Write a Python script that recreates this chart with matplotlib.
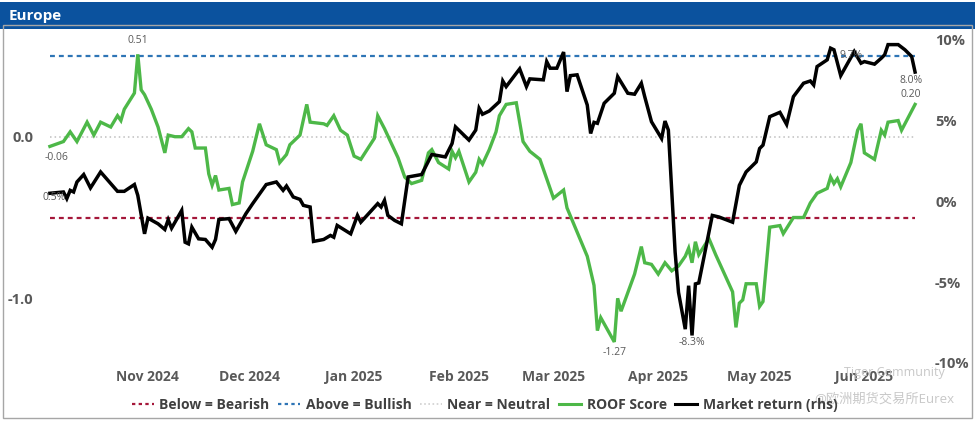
import matplotlib
matplotlib.use('Agg')
import matplotlib.pyplot as plt
import matplotlib.ticker as mticker
from matplotlib.lines import Line2D
from matplotlib.patches import Rectangle
import pandas as pd

# ROOF score (left axis)
roof_dates = ['2024-10-03', '2024-10-07', '2024-10-09', '2024-10-11', '2024-10-14', '2024-10-16', '2024-10-18',
              '2024-10-21', '2024-10-23', '2024-10-24', '2024-10-25', '2024-10-28', '2024-10-29', '2024-10-30',
              '2024-10-31', '2024-11-02', '2024-11-04', '2024-11-06', '2024-11-07', '2024-11-09', '2024-11-11',
              '2024-11-13', '2024-11-14', '2024-11-15', '2024-11-18', '2024-11-19', '2024-11-20', '2024-11-21',
              '2024-11-22', '2024-11-25', '2024-11-26', '2024-11-28', '2024-11-29', '2024-12-02', '2024-12-04',
              '2024-12-06', '2024-12-09', '2024-12-10', '2024-12-12', '2024-12-13', '2024-12-16', '2024-12-18',
              '2024-12-19', '2024-12-23', '2024-12-24', '2024-12-26', '2024-12-28', '2024-12-30', '2025-01-01',
              '2025-01-03', '2025-01-07', '2025-01-08', '2025-01-10', '2025-01-14', '2025-01-16', '2025-01-18',
              '2025-01-21', '2025-01-23', '2025-01-24', '2025-01-26', '2025-01-29', '2025-01-30', '2025-01-31',
              '2025-02-01', '2025-02-04', '2025-02-06', '2025-02-07', '2025-02-08', '2025-02-10', '2025-02-12',
              '2025-02-13', '2025-02-15', '2025-02-18', '2025-02-20', '2025-02-22', '2025-02-25', '2025-03-01',
              '2025-03-04', '2025-03-05', '2025-03-11', '2025-03-13', '2025-03-14', '2025-03-15', '2025-03-19',
              '2025-03-20', '2025-03-21', '2025-03-25', '2025-03-27', '2025-03-28', '2025-03-30', '2025-04-01',
              '2025-04-03', '2025-04-05', '2025-04-07', '2025-04-09', '2025-04-10', '2025-04-11', '2025-04-12',
              '2025-04-13', '2025-04-16', '2025-04-18', '2025-04-23', '2025-04-24', '2025-04-25', '2025-04-26',
              '2025-04-27', '2025-04-30', '2025-05-01', '2025-05-02', '2025-05-04', '2025-05-07', '2025-05-08',
              '2025-05-11', '2025-05-14', '2025-05-16', '2025-05-18', '2025-05-21', '2025-05-22', '2025-05-23',
              '2025-05-24', '2025-05-25', '2025-05-28', '2025-05-30', '2025-05-31', '2025-06-01', '2025-06-04',
              '2025-06-06', '2025-06-07', '2025-06-08', '2025-06-11', '2025-06-12', '2025-06-16']
roof_score = [-0.06, -0.03, 0.03, -0.03, 0.09, 0.01, 0.09, 0.06, 0.13, 0.10, 0.17, 0.27, 0.51, 0.29, 0.26,
              0.17, 0.06, -0.10, 0.01, 0.00, 0.00, 0.05, 0.03, -0.07, -0.07, -0.23, -0.30, -0.24, -0.33, -0.32,
              -0.42, -0.41, -0.28,
              -0.09, 0.08, -0.05, -0.08, -0.16, -0.11, -0.05, 0.01, 0.20, 0.09, 0.08, 0.07, 0.13, 0.04, 0.01,
              -0.12, -0.14, -0.01, 0.13, 0.05, -0.13, -0.25, -0.29, -0.27, -0.10, -0.08, -0.16, -0.20, -0.09, -0.13,
              -0.09, -0.28, -0.22, -0.14, -0.17, -0.08, 0.03, 0.13, 0.20, 0.21, -0.03, -0.09, -0.14,
              -0.38, -0.33, -0.44, -0.74, -0.92, -1.20, -1.12, -1.27, -1.00, -1.08, -0.85, -0.68, -0.78, -0.79,
              -0.85, -0.78, -0.83, -0.80, -0.74, -0.69, -0.78, -0.65, -0.73, -0.63, -0.73, -0.96, -1.18, -1.03,
              -1.01, -0.91, -0.91,
              -1.05, -1.02, -0.56, -0.55, -0.60, -0.50, -0.50, -0.41, -0.35, -0.32, -0.25, -0.29, -0.26, -0.31,
              -0.16, 0.04, 0.08,
              -0.10, -0.14, 0.04, 0.01, 0.09, 0.10, 0.04, 0.20]

# Market return in % (right axis)
mkt_dates = ['2024-10-03', '2024-10-07', '2024-10-08', '2024-10-09', '2024-10-10', '2024-10-11', '2024-10-13',
             '2024-10-15', '2024-10-18', '2024-10-23', '2024-10-25', '2024-10-28', '2024-10-29', '2024-10-31',
             '2024-11-01', '2024-11-04', '2024-11-06', '2024-11-07', '2024-11-08', '2024-11-11', '2024-11-12',
             '2024-11-13', '2024-11-14', '2024-11-16', '2024-11-18', '2024-11-20', '2024-11-21', '2024-11-22',
             '2024-11-25', '2024-11-27', '2024-11-30', '2024-12-02', '2024-12-06', '2024-12-09', '2024-12-11',
             '2024-12-12', '2024-12-14', '2024-12-16', '2024-12-17', '2024-12-19', '2024-12-20', '2024-12-23',
             '2024-12-25', '2024-12-26', '2024-12-27', '2024-12-31', '2025-01-02', '2025-01-03', '2025-01-08',
             '2025-01-09', '2025-01-10', '2025-01-11', '2025-01-13', '2025-01-15', '2025-01-17', '2025-01-21',
             '2025-01-24', '2025-01-28', '2025-01-30', '2025-01-31', '2025-02-04', '2025-02-06', '2025-02-07',
             '2025-02-08', '2025-02-10', '2025-02-13', '2025-02-14', '2025-02-15', '2025-02-19', '2025-02-21',
             '2025-02-22', '2025-02-26', '2025-02-27', '2025-02-28', '2025-03-02', '2025-03-04', '2025-03-05',
             '2025-03-06', '2025-03-08', '2025-03-11', '2025-03-12', '2025-03-13', '2025-03-14', '2025-03-16',
             '2025-03-19', '2025-03-20', '2025-03-23', '2025-03-25', '2025-03-27', '2025-03-28', '2025-03-30',
             '2025-04-02', '2025-04-03', '2025-04-04', '2025-04-06', '2025-04-07', '2025-04-09', '2025-04-10',
             '2025-04-11', '2025-04-12', '2025-04-13', '2025-04-17', '2025-04-19', '2025-04-23', '2025-04-25',
             '2025-04-27', '2025-04-30', '2025-05-01', '2025-05-02', '2025-05-04', '2025-05-07', '2025-05-09',
             '2025-05-11', '2025-05-14', '2025-05-16', '2025-05-17', '2025-05-18', '2025-05-21', '2025-05-22',
             '2025-05-23', '2025-05-25', '2025-05-29', '2025-05-31', '2025-06-01', '2025-06-04', '2025-06-06',
             '2025-06-07', '2025-06-08', '2025-06-11', '2025-06-13', '2025-06-15', '2025-06-16']
mkt_return = [0.5, 0.58, 0.17, 0.68, 0.58, 1.20, 1.66, 0.83, 1.82, 0.62, 0.62, 1.04, 0.37, -2.01,
              -1.04, -1.39, -1.74, -1.14, -1.66, -0.56, -2.53, -2.63, -1.60, -2.32, -2.36, -2.84, -2.36, -1.12,
              -1.07, -1.86, -0.76,
              -0.14, 1.04, 1.20, 0.68, 0.95, 0.27, 0.12, -0.25, -0.35, -2.48, -2.36, -2.11, -2.22, -1.49, -2.01,
              -0.87, -1.29, -0.14, -0.35, 0.06, -0.87, -1.18, -1.39, 1.51, 1.66, 2.90, 2.75, 3.58, 4.61,
              3.79, 4.41, 5.76, 5.39, 5.59, 6.17, 7.45, 7.10, 8.20, 7.10, 7.58, 7.52, 8.65, 8.24,
              8.24, 9.24, 6.79, 7.78, 7.83, 5.96, 4.20, 4.89, 4.83, 6.07, 6.69, 7.72, 6.69, 6.63, 7.31, 6.48, 4.93,
              3.89, 4.97, 4.41, -3.15, -5.63, -7.91, -5.22, -8.3, -5.11, -5.05, -0.87, -0.97, -1.29, 0.99, 1.82, 2.44,
              3.27, 3.48, 5.24, 5.51, 4.76, 6.48, 7.31, 7.45, 7.20, 8.34, 8.76, 9.48, 9.38, 7.78, 9.27, 8.55,
              8.65, 8.49, 8.86, 9.07, 9.7, 9.7, 9.38, 8.96, 8.0]

month_ticks = ['2024-11-01', '2024-12-01', '2025-01-01', '2025-02-01',
               '2025-03-01', '2025-04-01', '2025-05-01', '2025-06-01']
month_labels = ['Nov 2024', 'Dec 2024', 'Jan 2025', 'Feb 2025',
                'Mar 2025', 'Apr 2025', 'May 2025', 'Jun 2025']

bullish_level = 0.5
bearish_level = -0.5
neutral_level = 0.0

plt.rcParams['font.family'] = ['Open Sans', 'Noto Sans CJK SC', 'DejaVu Sans']

grey = '#595959'
green = '#4DB848'
blue = '#2E75B6'
red = '#A5173A'

rd = pd.to_datetime(roof_dates)
md = pd.to_datetime(mkt_dates)
ticks = pd.to_datetime(month_ticks)

fig = plt.figure(figsize=(9.75, 4.23), dpi=100)

# header bar and frame
fig.patches.append(Rectangle((0.0, 0.932), 1.0, 0.064, transform=fig.transFigure,
                             facecolor='#0B529E', edgecolor='none', zorder=0))
fig.patches.append(Rectangle((0.003, 0.012), 0.994, 0.93, transform=fig.transFigure,
                             facecolor='none', edgecolor='#A6A6A6', lw=1.0, zorder=0))
fig.text(0.009, 0.963, 'Europe', color='white', fontsize=11, fontweight='bold', va='center')

ax = fig.add_axes([0.046, 0.142, 0.896, 0.764])
ax2 = ax.twinx()

x0, x1 = rd[0], rd[-1]
ax.hlines(bullish_level, x0, x1, color=blue, ls=(0, (2.2, 1.8)), lw=1.6)
ax.hlines(bearish_level, x0, x1, color=red, ls=(0, (2.2, 1.8)), lw=1.6)
ax.hlines(neutral_level, x0, x1, color='#BFBFBF', ls=(0, (1, 2)), lw=1.1)

ax.plot(rd, roof_score, color=green, lw=2.4, solid_joinstyle='miter')
ax2.plot(md, mkt_return, color='black', lw=2.5, solid_joinstyle='miter')

ax.set_xlim(pd.Timestamp('2024-10-01 12:00'), pd.Timestamp('2025-06-17'))
ax.set_ylim(-1.4, 0.6)
ax2.set_ylim(-10, 10)

ax.set_xticks(ticks)
ax.set_xticklabels(month_labels)
ax.set_yticks([-1.0, 0.0])
ax.yaxis.set_major_formatter(mticker.FormatStrFormatter('%.1f'))
ax2.set_yticks([-10, -5, 0, 5, 10])
ax2.yaxis.set_major_formatter(mticker.FuncFormatter(lambda v, p: f'{v:.0f}%'))

for a in (ax, ax2):
    for s in a.spines.values():
        s.set_visible(False)
ax.tick_params(axis='x', length=0, pad=5, labelsize=10, labelcolor=grey)
ax.tick_params(axis='y', length=0, pad=8, labelsize=10.5, labelcolor=grey)
ax2.tick_params(axis='y', length=0, pad=12, labelsize=10.5, labelcolor=grey)
for lab in ax.get_xticklabels() + ax.get_yticklabels() + ax2.get_yticklabels():
    lab.set_fontweight('bold')

# data labels
lab_kw = dict(textcoords='offset points', fontsize=7.5, color=grey, ha='center')
ax.annotate('0.51', (rd[12], roof_score[12]), xytext=(0, 6), va='bottom', **lab_kw)
ax.annotate('-0.06', (rd[0], roof_score[0]), xytext=(5, -4), va='top', **lab_kw)
ax.annotate('-1.27', (rd[83], roof_score[83]), xytext=(0, -4), va='top', **lab_kw)
ax.annotate('0.20', (rd[-1], roof_score[-1]), xytext=(-3, 3), va='bottom', **lab_kw)
ax2.annotate('0.5%', (md[0], mkt_return[0]), xytext=(3, -3), va='center', **lab_kw)
ax2.annotate('-8.3%', (md[98], mkt_return[98]), xytext=(0, -1), va='top', **lab_kw)
ax2.annotate('9.7%', (md[121], mkt_return[121]), xytext=(-2, -3), va='center', **lab_kw)
ax2.annotate('8.0%', (md[-1], mkt_return[-1]), xytext=(-3, -2), va='top', **lab_kw)

handles = [
    Line2D([], [], color=red, ls=(0, (1.5, 1.5)), lw=1.6),
    Line2D([], [], color=blue, ls=(0, (1.5, 1.5)), lw=1.6),
    Line2D([], [], color='#D0D0D0', ls=(0, (1, 1.5)), lw=1.2),
    Line2D([], [], color=green, lw=2.2),
    Line2D([], [], color='black', lw=2.2),
]
labels = ['Below = Bearish', 'Above = Bullish', 'Near = Neutral', 'ROOF Score', 'Market return (rhs)']
leg = fig.legend(handles, labels, loc='center', bbox_to_anchor=(0.497, 0.043), ncol=5, frameon=False,
                 handlelength=1.6, handletextpad=0.4, columnspacing=0.6,
                 prop={'size': 10, 'weight': 'bold'})
for t in leg.get_texts():
    t.set_color('#404040')

# watermark
fig.text(0.866, 0.12, 'Tiger Community', color='#C8C8C8', fontsize=9, va='center')
fig.text(0.835, 0.057, '@欧洲期货交易所Eurex', color='#C8C8C8', fontsize=9.5, va='center')

fig.savefig('out.png', dpi=100, facecolor='white')
